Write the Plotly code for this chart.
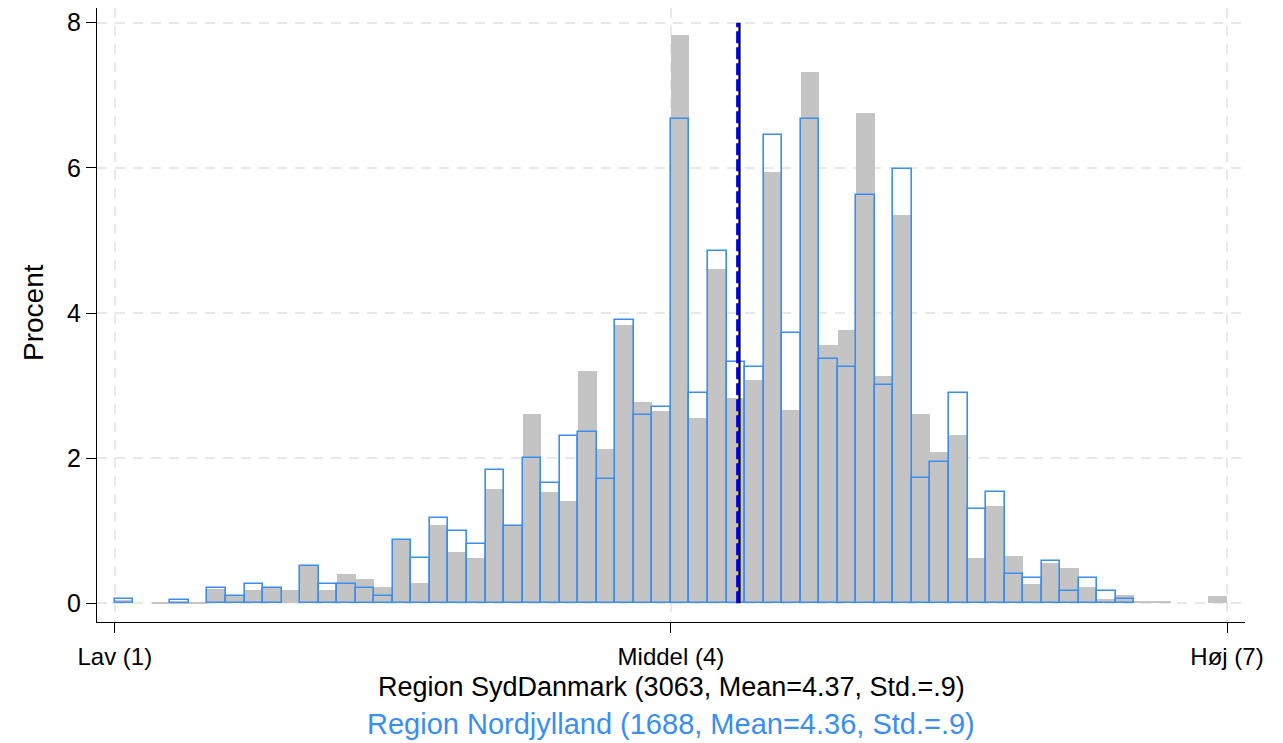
import numpy as np
import plotly.graph_objects as go

# Bin left edges (width 0.1) from 1.0 to 6.9
bin_width = 0.1
bin_left = [round(1.0 + 0.1 * k, 1) for k in range(60)]

# Region SydDanmark (grey filled bars), percent per bin
syd_pct = [0.05, 0.00, 0.02, 0.01, 0.01, 0.19, 0.11, 0.18, 0.21, 0.18,
           0.51, 0.18, 0.41, 0.34, 0.22, 0.87, 0.28, 1.08, 0.71, 0.62,
           1.57, 1.06, 2.61, 1.54, 1.41, 3.20, 2.12, 3.83, 2.78, 2.65,
           7.83, 2.55, 4.60, 2.83, 3.07, 5.94, 2.67, 7.32, 3.56, 3.76,
           6.76, 3.13, 5.35, 2.61, 2.09, 2.32, 0.62, 1.34, 0.65, 0.26,
           0.56, 0.49, 0.22, 0.06, 0.12, 0.03, 0.03, 0.00, 0.00, 0.10]

# Region Nordjylland (blue outlined bars), percent per bin
nord_pct = [0.06, 0.00, 0.00, 0.05, 0.00, 0.21, 0.10, 0.27, 0.21, 0.00,
            0.51, 0.27, 0.27, 0.21, 0.10, 0.87, 0.63, 1.18, 1.00, 0.82,
            1.83, 1.06, 2.00, 1.66, 2.30, 2.36, 1.71, 3.91, 2.60, 2.71,
            6.68, 2.90, 4.85, 3.32, 3.26, 6.45, 3.73, 6.68, 3.37, 3.26,
            5.62, 3.01, 5.98, 1.72, 1.95, 2.90, 1.30, 1.53, 0.41, 0.35,
            0.58, 0.17, 0.35, 0.17, 0.06, 0.00, 0.00, 0.00, 0.00, 0.00]

mean_syd = 4.37
mean_nord = 4.36
x_tickvals = [1, 4, 7]
x_ticktext = ["Lav (1)", "Middel (4)", "Høj (7)"]
y_tickvals = [0, 2, 4, 6, 8]
y_title = "Procent"
title_syd = "Region SydDanmark (3063, Mean=4.37, Std.=.9)"
title_nord = "Region Nordjylland (1688, Mean=4.36, Std.=.9)"

GREY = "#c4c4c4"
BLUE = "#3a8ef2"
FONT = "Liberation Sans, Arial, sans-serif"

centers = [b + bin_width / 2 for b in bin_left]


def nz(vals):
    return [v if v > 0 else None for v in vals]


fig = go.Figure()
fig.add_trace(go.Bar(
    x=centers, y=nz(syd_pct), width=bin_width,
    marker=dict(color=GREY, line=dict(width=0)),
    showlegend=False, hoverinfo="skip"))
fig.add_trace(go.Bar(
    x=centers, y=nz(nord_pct), width=bin_width,
    marker=dict(color="rgba(0,0,0,0)", line=dict(color=BLUE, width=1.6)),
    showlegend=False, hoverinfo="skip"))

# mean lines
fig.add_trace(go.Scatter(
    x=[mean_syd, mean_syd], y=[0, 8], mode="lines",
    line=dict(color="black", width=2.2), showlegend=False, hoverinfo="skip"))
fig.add_trace(go.Scatter(
    x=[mean_nord, mean_nord], y=[0, 8], mode="lines",
    line=dict(color="#0000d8", width=3, dash="12px,4px"),
    showlegend=False, hoverinfo="skip"))

# page body has an 8px margin -> figure is offset by 8px
OFF = 8
W, H = 1283 - OFF, 743 - OFF
ML, MR, MT, MB = 97 - OFF, 38, 0, 121
PW, PH = W - ML - MR, H - MT - MB
PLOT_BOTTOM = MT + PH


def py(page_y):
    return (PLOT_BOTTOM - (page_y - OFF)) / PH


def px(page_x):
    return ((page_x - OFF) - ML) / PW


fig.update_layout(
    width=W, height=H,
    margin=dict(l=ML, r=MR, t=MT, b=MB, autoexpand=False),
    paper_bgcolor="white", plot_bgcolor="white",
    barmode="overlay", bargap=0,
    font=dict(family=FONT, size=24, color="black"),
    xaxis=dict(
        range=[0.904, 7.097], tickvals=x_tickvals, ticktext=x_ticktext,
        showline=True, linecolor="black", linewidth=1.3,
        ticks="outside", ticklen=10, tickwidth=1.3, tickcolor="black",
        showgrid=True, gridcolor="#e8e8e8", gridwidth=1.6, griddash="10px,8px",
        zeroline=False, tickfont=dict(size=24, family=FONT),
        ticklabelstandoff=3, automargin=False,
    ),
    yaxis=dict(
        range=[-0.258, 8.203], tickvals=y_tickvals,
        showline=True, linecolor="black", linewidth=1.3,
        ticks="outside", ticklen=10, tickwidth=1.3, tickcolor="black",
        showgrid=True, gridcolor="#e8e8e8", gridwidth=1.6, griddash="10px,8px",
        zeroline=False, tickfont=dict(size=25, family=FONT),
        ticklabelstandoff=0, automargin=False,
    ),
    annotations=[
        dict(text=y_title, xref="paper", yref="paper",
             x=px(33), y=py(313),
             xanchor="center", yanchor="middle", textangle=-90, showarrow=False,
             font=dict(size=28, family=FONT, color="black")),
        dict(text=title_syd, xref="paper", yref="paper", x=0.5, y=py(687),
             xanchor="center", yanchor="middle", showarrow=False,
             font=dict(size=27, family=FONT, color="black")),
        dict(text=title_nord, xref="paper", yref="paper", x=0.5, y=py(724),
             xanchor="center", yanchor="middle", showarrow=False,
             font=dict(size=29, family=FONT, color=BLUE)),
    ],
)

fig.write_html("out.html")
